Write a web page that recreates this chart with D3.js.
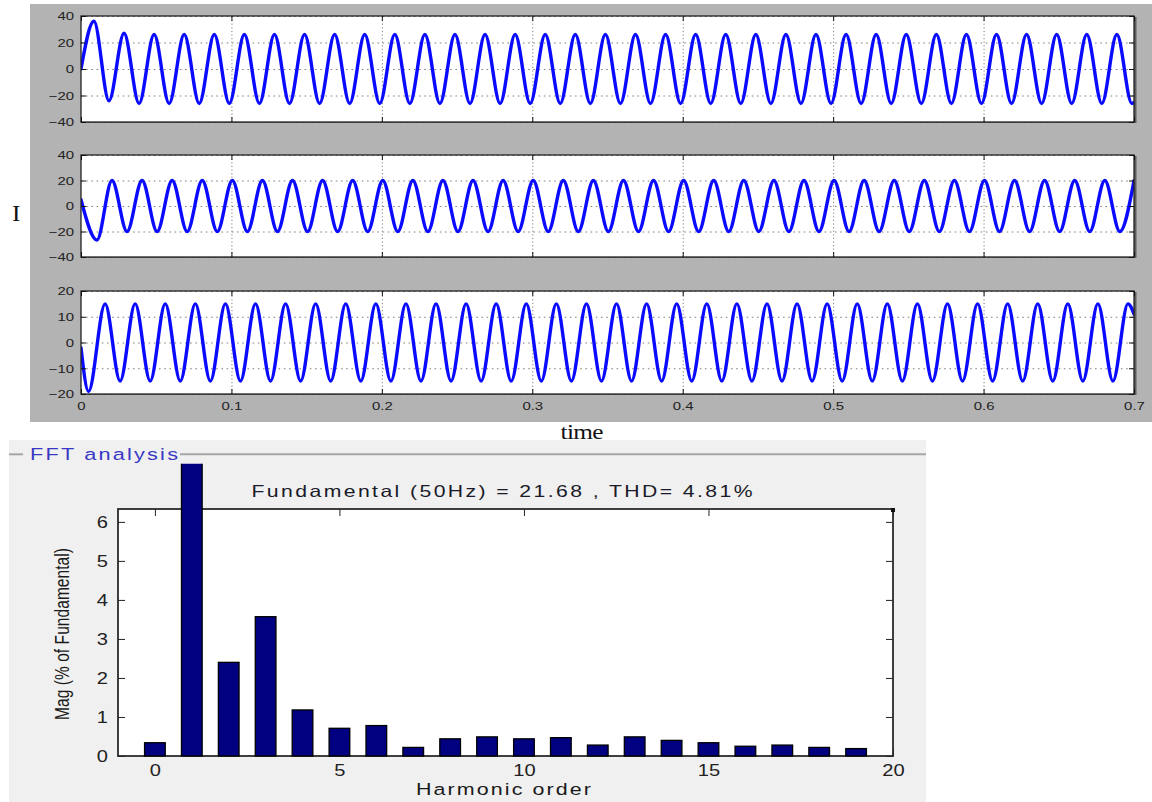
<!DOCTYPE html>
<html><head><meta charset="utf-8">
<script src="https://d3js.org/d3.v7.min.js"></script>
<style>html,body{margin:0;padding:0;background:#fff;overflow:hidden}svg{display:block}</style>
</head><body>
<svg id="chart" width="1152" height="802"></svg>
<script>
// ---------------- DATA ----------------
// Scope traces: extrema [time (s), current (A)]
const phaseA = [
[0,0],[0.0086,36],[0.0186,-24],[0.0286,27],[0.0386,-26],[0.0486,26],[0.0586,-26],[0.0686,26],[0.0786,-26],[0.0886,26],[0.0986,-26],
[0.1086,26],[0.1186,-26],[0.1286,26],[0.1386,-26],[0.1486,26],[0.1586,-26],[0.1686,26],[0.1786,-26],[0.1886,26],[0.1986,-26],
[0.2086,26],[0.2186,-26],[0.2286,26],[0.2386,-26],[0.2486,26],[0.2586,-26],[0.2686,26],[0.2786,-26],[0.2886,26],[0.2986,-26],
[0.3086,26],[0.3186,-26],[0.3286,26],[0.3386,-26],[0.3486,26],[0.3586,-26],[0.3686,26],[0.3786,-26],[0.3886,26],[0.3986,-26],
[0.4086,26],[0.4186,-26],[0.4286,26],[0.4386,-26],[0.4486,26],[0.4586,-26],[0.4686,26],[0.4786,-26],[0.4886,26],[0.4986,-26],
[0.5086,26],[0.5186,-26],[0.5286,26],[0.5386,-26],[0.5486,26],[0.5586,-26],[0.5686,26],[0.5786,-26],[0.5886,26],[0.5986,-26],
[0.6086,26],[0.6186,-26],[0.6286,26],[0.6386,-26],[0.6486,26],[0.6586,-26],[0.6686,26],[0.6786,-26],[0.6886,26],[0.6986,-26],[0.7,-25.3]
];
const phaseB = [
[0,5],[0.0106,-26.7],[0.0206,20],[0.0306,-20],[0.0406,20],[0.0506,-20],[0.0606,20],[0.0706,-20],[0.0806,20],[0.0906,-20],[0.1006,20],
[0.1106,-20],[0.1206,20],[0.1306,-20],[0.1406,20],[0.1506,-20],[0.1606,20],[0.1706,-20],[0.1806,20],[0.1906,-20],[0.2006,20],
[0.2106,-20],[0.2206,20],[0.2306,-20],[0.2406,20],[0.2506,-20],[0.2606,20],[0.2706,-20],[0.2806,20],[0.2906,-20],[0.3006,20],
[0.3106,-20],[0.3206,20],[0.3306,-20],[0.3406,20],[0.3506,-20],[0.3606,20],[0.3706,-20],[0.3806,20],[0.3906,-20],[0.4006,20],
[0.4106,-20],[0.4206,20],[0.4306,-20],[0.4406,20],[0.4506,-20],[0.4606,20],[0.4706,-20],[0.4806,20],[0.4906,-20],[0.5006,20],
[0.5106,-20],[0.5206,20],[0.5306,-20],[0.5406,20],[0.5506,-20],[0.5606,20],[0.5706,-20],[0.5806,20],[0.5906,-20],[0.6006,20],
[0.6106,-20],[0.6206,20],[0.6306,-20],[0.6406,20],[0.6506,-20],[0.6606,20],[0.6706,-20],[0.6806,20],[0.6906,-20],[0.7,19.9]
];
const phaseC = [
[0,-2],[0.005,-19],[0.016,15],[0.026,-15],[0.036,15],[0.046,-15],[0.056,15],[0.066,-15],[0.076,15],[0.086,-15],[0.096,15],
[0.106,-15],[0.116,15],[0.126,-15],[0.136,15],[0.146,-15],[0.156,15],[0.166,-15],[0.176,15],[0.186,-15],[0.196,15],
[0.206,-15],[0.216,15],[0.226,-15],[0.236,15],[0.246,-15],[0.256,15],[0.266,-15],[0.276,15],[0.286,-15],[0.296,15],
[0.306,-15],[0.316,15],[0.326,-15],[0.336,15],[0.346,-15],[0.356,15],[0.366,-15],[0.376,15],[0.386,-15],[0.396,15],
[0.406,-15],[0.416,15],[0.426,-15],[0.436,15],[0.446,-15],[0.456,15],[0.466,-15],[0.476,15],[0.486,-15],[0.496,15],
[0.506,-15],[0.516,15],[0.526,-15],[0.536,15],[0.546,-15],[0.556,15],[0.566,-15],[0.576,15],[0.586,-15],[0.596,15],
[0.606,-15],[0.616,15],[0.626,-15],[0.636,15],[0.646,-15],[0.656,15],[0.666,-15],[0.676,15],[0.686,-15],[0.696,15],[0.7,11]
];
const timeTicks = [0, 0.1, 0.2, 0.3, 0.4, 0.5, 0.6, 0.7];
const timeTickLabels = ["0", "0.1", "0.2", "0.3", "0.4", "0.5", "0.6", "0.7"];
const currentTicks40 = [-40, -20, 0, 20, 40];
const currentTicks20 = [-20, -10, 0, 10, 20];

// FFT analysis
const harmonicOrder = [0,1,2,3,4,5,6,7,8,9,10,11,12,13,14,15,16,17,18,19];
const magnitude = [0.34,100,2.40,3.57,1.18,0.71,0.78,0.22,0.44,0.49,0.44,0.47,0.28,0.49,0.40,0.34,0.25,0.28,0.22,0.19];
const harmonicTicks = [0, 5, 10, 15, 20];
const harmonicTickLabels = ["0", "5", "10", "15", "20"];
const magTicks = [0, 1, 2, 3, 4, 5, 6];
const magTickLabels = ["0", "1", "2", "3", "4", "5", "6"];
const fftTitle = "Fundamental (50Hz) = 21.68 , THD= 4.81%";

// ---------------- DRAWING ----------------
const SANS = "'Liberation Sans', Arial, Helvetica, sans-serif";
const SERIF = "'Liberation Serif', 'Times New Roman', serif";
const svg = d3.select("#chart");

function addText(parent, o) {
  let tr = `translate(${o.x},${o.y}) scale(${o.sx || 1},1)`;
  if (o.rotate) tr += ` rotate(${o.rotate})`;
  const t = parent.append("text")
    .attr("transform", tr)
    .attr("text-anchor", o.anchor || "start")
    .style("font-family", o.family || SANS)
    .style("font-size", o.size + "px")
    .attr("fill", o.fill || "#1a1a1a")
    .text(o.text);
  if (o.len) t.attr("textLength", o.rotate ? o.len : o.len / (o.sx || 1)).attr("lengthAdjust", "spacing");
  return t;
}

// ---- Scope ----
const xT = d3.scaleLinear().domain([0, 0.7]).range([81, 1134]);
const scope = svg.append("g");
scope.append("rect").attr("x", 30).attr("y", 4).attr("width", 1122).attr("height", 418).attr("fill", "#b3b3b3");

const panels = [
  {data: phaseA, top: 16, bottom: 122, domain: [-40, 40], ticks: currentTicks40, labels: false},
  {data: phaseB, top: 155, bottom: 257, domain: [-40, 40], ticks: currentTicks40, labels: false},
  {data: phaseC, top: 291, bottom: 394, domain: [-20, 20], ticks: currentTicks20, labels: true}
];

panels.forEach((p, i) => {
  const y = d3.scaleLinear().domain(p.domain).range([p.bottom, p.top]);
  const x0 = xT.range()[0], x1 = xT.range()[1];
  const w = x1 - x0, h = p.bottom - p.top;
  const g = scope.append("g");
  g.append("rect").attr("x", x0 + 2.5).attr("y", p.top + 1).attr("width", w).attr("height", h).attr("fill", "#5e5e5e");
  g.append("rect").attr("x", x0).attr("y", p.top).attr("width", w).attr("height", h).attr("fill", "#ffffff");

  // grid
  g.append("g").attr("transform", `translate(${x0},0)`)
    .call(d3.axisLeft(y).tickValues(p.ticks).tickSize(-w).tickFormat(""))
    .call(s => { s.select(".domain").remove(); s.selectAll("line").attr("stroke", "#808080").attr("stroke-dasharray", "1.6,3.6"); });
  g.append("g").attr("transform", `translate(0,${p.bottom})`)
    .call(d3.axisBottom(xT).tickValues(timeTicks.slice(1, -1)).tickSize(-h).tickFormat(""))
    .call(s => { s.select(".domain").remove(); s.selectAll("line").attr("stroke", "#808080").attr("stroke-dasharray", "1.2,2.4"); });

  // trace
  const cid = "clipScope" + i;
  g.append("clipPath").attr("id", cid).append("rect").attr("x", x0).attr("y", p.top).attr("width", w).attr("height", h);
  g.append("path").datum(p.data)
    .attr("clip-path", `url(#${cid})`)
    .attr("d", d3.line().x(d => xT(d[0])).y(d => y(d[1])).curve(d3.curveMonotoneX))
    .attr("fill", "none").attr("stroke", "#0a0aff").attr("stroke-width", 3.4)
    .attr("stroke-linejoin", "round").attr("stroke-linecap", "round");

  // frame
  g.append("rect").attr("x", x0).attr("y", p.top).attr("width", w).attr("height", h)
    .attr("fill", "none").attr("stroke", "#222").attr("stroke-width", 1.3);

  // ticks and labels
  const ax = g.append("g").attr("transform", `translate(${x0},0)`)
    .call(d3.axisLeft(y).tickValues(p.ticks).tickSizeInner(-5).tickSizeOuter(0).tickPadding(7).tickFormat(d3.format("d")));
  ax.select(".domain").remove();
  ax.selectAll("line").attr("stroke", "#111");
  ax.selectAll("text").attr("x", 0).attr("dy", "0.34em")
    .attr("transform", "translate(-7,0) scale(1.3,1)")
    .style("font-family", SANS).style("font-size", "11.5px").attr("fill", "#222");

  const ar = g.append("g").attr("transform", `translate(${x1},0)`)
    .call(d3.axisRight(y).tickValues(p.ticks).tickSizeInner(-5).tickSizeOuter(0).tickFormat(""));
  ar.select(".domain").remove(); ar.selectAll("line").attr("stroke", "#111");

  const at = g.append("g").attr("transform", `translate(0,${p.top})`)
    .call(d3.axisTop(xT).tickValues(timeTicks).tickSizeInner(-5).tickSizeOuter(0).tickFormat(""));
  at.select(".domain").remove(); at.selectAll("line").attr("stroke", "#111");

  const ab = g.append("g").attr("transform", `translate(0,${p.bottom})`)
    .call(d3.axisBottom(xT).tickValues(timeTicks).tickSizeInner(-5).tickSizeOuter(0).tickPadding(8)
      .tickFormat((d, k) => p.labels ? timeTickLabels[k] : ""));
  ab.select(".domain").remove(); ab.selectAll("line").attr("stroke", "#111");
  ab.selectAll("text").attr("y", 0).attr("dy", null)
    .attr("transform", "translate(0,16.3) scale(1.3,1)")
    .style("font-family", SANS).style("font-size", "11.5px").attr("fill", "#222");
});

addText(svg, {x: 16.3, y: 221, text: "I", size: 23, family: SERIF, anchor: "middle", sx: 1.1, fill: "#111"});
addText(svg, {x: 582, y: 439, text: "time", size: 22, family: SERIF, anchor: "middle", sx: 1.15, len: 43, fill: "#111"});

// ---- FFT analysis ----
const fft = svg.append("g");
fft.append("rect").attr("x", 9).attr("y", 440).attr("width", 917).attr("height", 362).attr("fill", "#f0f0f0");
fft.append("line").attr("x1", 9).attr("x2", 23).attr("y1", 454.3).attr("y2", 454.3).attr("stroke", "#a6a6a6").attr("stroke-width", 2);
fft.append("line").attr("x1", 180).attr("x2", 926).attr("y1", 454.3).attr("y2", 454.3).attr("stroke", "#a6a6a6").attr("stroke-width", 2);
addText(fft, {x: 30, y: 459.5, text: "FFT analysis", size: 16.7, sx: 1.3, len: 148, fill: "#3838c4"});

const xF = d3.scaleLinear().domain([-1, 20]).range([118, 893]);
const yF = d3.scaleLinear().domain([0, 6.33]).range([756, 509]);
const fx0 = xF.range()[0], fx1 = xF.range()[1], fy0 = yF.range()[0], fy1 = yF.range()[1];

fft.append("rect").attr("x", fx0).attr("y", fy1).attr("width", fx1 - fx0).attr("height", fy0 - fy1).attr("fill", "#fff");

const fl = fft.append("g").attr("transform", `translate(${fx0},0)`)
  .call(d3.axisLeft(yF).tickValues(magTicks).tickSizeInner(-7).tickSizeOuter(0).tickPadding(10)
    .tickFormat((d, k) => magTickLabels[k]));
fl.select(".domain").remove(); fl.selectAll("line").attr("stroke", "#222");
fl.selectAll("text").attr("x", 0).attr("dy", "0.36em")
  .attr("transform", "translate(-10,0) scale(1.22,1)")
  .style("font-family", SANS).style("font-size", "16.5px").attr("fill", "#222");

const fr = fft.append("g").attr("transform", `translate(${fx1},0)`)
  .call(d3.axisRight(yF).tickValues(magTicks).tickSizeInner(-7).tickSizeOuter(0).tickFormat(""));
fr.select(".domain").remove(); fr.selectAll("line").attr("stroke", "#222");

const ft = fft.append("g").attr("transform", `translate(0,${fy1})`)
  .call(d3.axisTop(xF).tickValues(harmonicTicks).tickSizeInner(-7).tickSizeOuter(0).tickFormat(""));
ft.select(".domain").remove(); ft.selectAll("line").attr("stroke", "#222");

const fb = fft.append("g").attr("transform", `translate(0,${fy0})`)
  .call(d3.axisBottom(xF).tickValues(harmonicTicks).tickSizeInner(-7).tickSizeOuter(0).tickPadding(8)
    .tickFormat((d, k) => harmonicTickLabels[k]));
fb.select(".domain").remove(); fb.selectAll("line").attr("stroke", "#222");
fb.selectAll("text").attr("y", 0).attr("dy", null)
  .attr("transform", "translate(0,19.5) scale(1.22,1)")
  .style("font-family", SANS).style("font-size", "16.5px").attr("fill", "#222");

fft.append("rect").attr("x", fx0).attr("y", fy1).attr("width", fx1 - fx0).attr("height", fy0 - fy1)
  .attr("fill", "none").attr("stroke", "#2b2b2b").attr("stroke-width", 1.8);
fft.append("rect").attr("x", fx1 - 2).attr("y", fy1 - 1).attr("width", 4).attr("height", 4).attr("fill", "#111");

// bars
fft.append("clipPath").attr("id", "clipBars").append("rect")
  .attr("x", 0).attr("y", yF(7.49)).attr("width", 1152).attr("height", 802 - yF(7.49));
const bw = xF(0.56) - xF(0);
fft.append("g").attr("clip-path", "url(#clipBars)")
  .selectAll("rect").data(d3.zip(harmonicOrder, magnitude)).join("rect")
  .attr("x", d => xF(d[0]) - bw / 2)
  .attr("y", d => yF(d[1]))
  .attr("width", bw)
  .attr("height", d => yF(0) - yF(d[1]))
  .attr("fill", "#000080").attr("stroke", "#000").attr("stroke-width", 1.3);

addText(fft, {x: 502, y: 497, text: fftTitle, size: 16.3, sx: 1.3, len: 501, anchor: "middle", fill: "#1a1a28"});
addText(fft, {x: 503.5, y: 795, text: "Harmonic order", size: 16.5, sx: 1.3, len: 175, anchor: "middle", fill: "#1a1a1a"});
addText(fft, {x: 69, y: 634, text: "Mag (% of Fundamental)", size: 15.5, sx: 1.25, rotate: -90, len: 172, anchor: "middle", fill: "#1a1a1a"});
</script>
</body></html>
